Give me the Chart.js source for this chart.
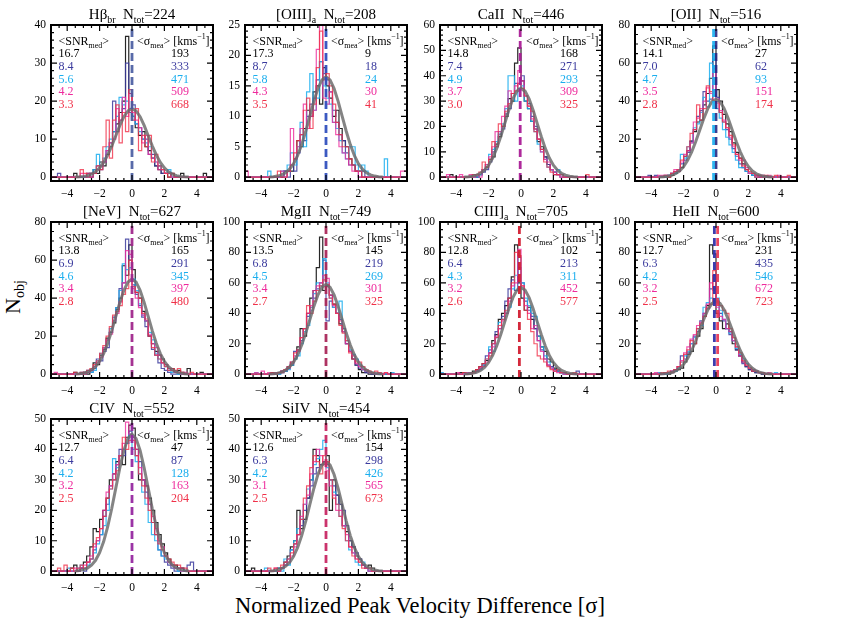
<!DOCTYPE html>
<html><head><meta charset="utf-8">
<script src="https://cdn.jsdelivr.net/npm/chart.js@4.4.1/dist/chart.umd.min.js"></script>
<style>
html,body{margin:0;padding:0;background:#fff;}
body{width:845px;height:623px;position:relative;overflow:hidden;font-family:"Liberation Serif","Times New Roman",serif;color:#000;}
#ylab{position:absolute;left:14px;top:297px;transform:translate(-50%,-50%) rotate(-90deg);font-size:22px;white-space:nowrap;}
#xlab{position:absolute;left:420px;top:606px;transform:translate(-50%,-50%);font-size:22.5px;white-space:nowrap;}
#ylab sub{font-size:14px;vertical-align:-4px;}
canvas{position:absolute;}
</style></head><body>
<div id="ylab">N<sub>obj</sub></div>
<div id="xlab">Normalized Peak Velocity Difference [σ]</div>
<script>
// ---------- DATA ----------
const binEdges = [-5,-4.8,-4.6,-4.4,-4.2,-4,-3.8,-3.6,-3.4,-3.2,-3,-2.8,-2.6,-2.4,-2.2,-2,-1.8,-1.6,-1.4,-1.2,-1,-0.8,-0.6,-0.4,-0.2,0,0.2,0.4,0.6,0.8,1,1.2,1.4,1.6,1.8,2,2.2,2.4,2.6,2.8,3,3.2,3.4,3.6,3.8,4,4.2,4.4,4.6,4.8,5];
const fitX = [-3.5,-3.25,-3,-2.75,-2.5,-2.25,-2,-1.75,-1.5,-1.25,-1,-0.75,-0.5,-0.25,0,0.25,0.5,0.75,1,1.25,1.5,1.75,2,2.25,2.5,2.75,3,3.25,3.5];
const xTicks = [-4,-2,0,2,4];

const lineNames = ['Hβ','[OIII]','CaII','[OII]','[NeV]','MgII','CIII]','HeII','CIV','SiIV'];
const lineSubs  = ['br','a','','','','','a','','',''];
const nTot      = [224,208,446,516,627,749,705,600,552,454];

// panel 1: Hbeta broad
const hb_k = [0,0,0,0,0,0,0,0,1,0, 0,0,1,0,2,1,4,3,6,8, 12,14,17,20,37,22,16,13,11,12, 8,7,5,3,2,1,1,0,1,0, 0,1,0,0,0,0,0,0,1,0];
const hb_b = [0,0,0,1,0,0,0,0,0,0, 0,0,0,1,1,3,2,4,7,9, 20,12,15,18,30,17,19,14,13,10, 10,6,6,3,3,1,1,1,0,0, 0,0,0,0,0,0,0,0,0,0];
const hb_c = [0,0,0,0,0,0,0,0,0,0, 0,0,0,1,2,6,3,5,8,10, 12,16,21,19,20,18,16,14,12,10, 9,8,5,4,3,2,1,2,0,0, 0,0,0,0,0,0,0,0,0,0];
const hb_m = [0,0,0,0,0,0,0,0,0,0, 1,0,1,0,1,2,3,4,7,9, 10,18,15,21,16,22,17,15,13,9, 11,6,5,4,2,2,1,1,0,0, 0,0,0,0,0,0,0,0,0,0];
const hb_r = [0,0,0,0,0,0,0,0,0,0, 2,1,0,1,1,3,2,8,15,5, 15,19,9,17,12,23,15,18,7,11, 8,11,4,6,3,2,1,0,1,0, 0,0,0,0,0,0,0,0,0,0];
const hb_fit = [0.04,0.09,0.2,0.41,0.79,1.43,2.44,3.9,5.84,8.24,10.9,13.6,15.9,17.4,18,17.4,15.9,13.6,10.9,8.24,5.84,3.9,2.44,1.43,0.79,0.41,0.2,0.09,0.04];
const hb_snr = ['16.7','8.4','5.6','4.2','3.3'];
const hb_sig = ['193','333','471','509','668'];

// panel 2: [OIII]a
const o3_k = [0,0,0,0,0,0,0,0,0,0, 0,0,0,1,1,1,3,6,5,8, 11,10,14,15,12,18,15,13,10,11, 8,6,5,3,2,1,1,0,0,0, 0,0,0,0,0,0,0,0,0,0];
const o3_b = [0,0,0,0,0,0,0,0,0,0, 0,0,0,1,0,2,1,4,7,6, 10,12,13,16,19,17,16,14,11,9, 7,6,4,2,2,1,0,1,0,0, 0,0,0,0,0,0,0,0,0,0];
const o3_c = [0,0,0,0,0,0,0,0,1,0, 0,0,1,0,2,4,2,5,9,5, 14,17,11,13,19,15,13,12,9,8, 6,4,3,5,5,2,1,2,1,0, 0,0,0,0,3,0,0,0,0,0];
const o3_m = [0,1,0,0,0,0,0,0,0,0, 0,0,1,0,1,8,3,5,8,12, 8,10,11,21,25,13,12,14,9,7, 5,4,3,2,1,1,0,0,0,0, 0,0,0,0,0,0,0,0,0,1];
const o3_r = [0,0,0,0,0,0,0,0,0,0, 0,1,0,0,1,2,4,6,7,11, 13,8,12,18,24,16,17,15,12,9, 7,5,5,3,2,1,1,0,0,0, 0,0,0,0,0,0,0,0,0,0];
const o3_fit = [0.04,0.08,0.18,0.38,0.72,1.31,2.23,3.57,5.36,7.55,10,12.45,14.56,15.99,16.5,15.99,14.56,12.45,10,7.55,5.36,3.57,2.23,1.31,0.72,0.38,0.18,0.08,0.04];
const o3_snr = ['17.3','8.7','5.8','4.3','3.5'];
const o3_sig = ['9','18','24','30','41'];

// panel 3: CaII
const ca_k = [0,0,0,0,1,0,0,0,0,0, 0,1,0,1,3,4,7,8,13,16, 20,24,31,30,45,51,38,30,27,22, 19,14,12,8,5,3,2,1,1,0, 0,0,0,0,0,0,0,0,0,0];
const ca_b = [0,0,0,0,0,0,0,0,0,0, 0,0,0,1,2,3,6,10,12,17, 19,25,27,33,37,35,40,32,29,24, 20,15,11,8,5,3,1,1,0,0, 0,0,0,0,0,0,0,0,0,0];
const ca_c = [0,0,0,0,0,0,0,0,0,0, 0,1,0,1,3,5,9,11,14,18, 21,27,40,40,30,35,36,30,27,22, 18,13,10,7,4,3,2,3,1,0, 0,0,0,0,0,0,0,0,0,0];
const ca_m = [0,0,0,1,0,0,0,1,0,0, 1,0,1,0,3,5,8,12,18,18, 24,28,34,33,36,42,38,32,28,23, 19,15,10,7,6,3,2,1,0,0, 0,0,0,0,0,0,0,0,0,0];
const ca_r = [0,0,0,0,0,0,0,0,0,0, 0,1,1,2,6,4,7,14,12,21, 20,26,29,33,34,37,35,32,28,26, 18,15,11,6,4,2,1,1,1,0, 0,0,0,0,0,0,1,0,0,0];
const ca_fit = [0.08,0.18,0.39,0.8,1.54,2.79,4.74,7.58,11.36,16.02,21.23,26.42,30.89,33.92,35,33.92,30.89,26.42,21.23,16.02,11.36,7.58,4.74,2.79,1.54,0.8,0.39,0.18,0.08];
const ca_snr = ['14.8','7.4','4.9','3.7','3.0'];
const ca_sig = ['168','271','293','309','325'];

// panel 4: [OII]
const o2_k = [0,0,0,0,0,0,0,0,0,0, 0,0,1,2,3,5,11,14,19,24, 29,30,38,44,52,69,46,40,33,28, 24,18,13,10,7,4,2,1,1,0, 0,0,0,0,0,0,0,0,0,0];
const o2_b = [0,0,0,0,0,1,0,1,0,0, 1,1,2,3,4,7,9,13,19,25, 32,35,45,40,41,62,42,34,29,25, 20,15,11,7,5,3,2,1,0,0, 0,0,0,0,0,0,0,0,0,0];
const o2_c = [0,0,0,0,0,0,0,0,0,0, 0,1,2,2,4,12,10,16,18,26, 28,34,42,37,60,43,36,31,25,21, 17,13,9,5,5,3,2,1,0,1, 0,0,0,0,0,0,0,0,0,0];
const o2_m = [0,0,0,0,0,0,0,0,1,1, 1,1,2,4,3,8,12,14,18,29, 31,36,40,47,44,57,41,35,30,26, 21,16,12,9,9,5,2,2,1,0, 1,0,1,0,0,1,0,0,0,0];
const o2_r = [0,0,0,0,0,0,0,0,0,0, 1,0,2,3,4,9,11,16,23,25, 38,30,36,48,45,40,39,34,29,26, 22,17,12,10,6,4,3,2,0,1, 0,1,0,0,1,0,0,0,1,0];
const o2_fit = [0.09,0.21,0.46,0.93,1.8,3.26,5.55,8.88,13.31,18.77,24.87,30.95,36.18,39.74,41,39.74,36.18,30.95,24.87,18.77,13.31,8.88,5.55,3.26,1.8,0.93,0.46,0.21,0.09];
const o2_snr = ['14.1','7.0','4.7','3.5','2.8'];
const o2_sig = ['27','62','93','151','174'];

// panel 5: [NeV]
const ne_k = [0,0,0,0,0,0,0,0,1,0, 0,1,0,2,6,5,10,13,19,22, 27,34,40,57,52,68,55,43,40,33, 28,20,16,12,10,8,5,3,3,1, 2,1,0,3,0,0,0,1,0,0];
const ne_b = [0,0,0,0,0,0,0,0,0,0, 1,0,2,1,3,8,7,12,14,22, 30,35,45,48,71,60,47,42,36,30, 25,20,13,10,6,3,2,1,0,0, 0,0,0,0,0,0,0,0,0,0];
const ne_c = [0,0,0,0,0,0,0,0,0,0, 0,0,1,1,2,7,11,14,18,24, 28,35,44,58,55,56,50,44,37,31, 28,22,18,11,8,6,4,2,1,1, 0,0,0,0,0,0,0,0,0,0];
const ne_m = [0,0,1,0,0,0,0,0,0,0, 0,1,1,2,4,6,9,14,18,21, 28,32,38,48,65,63,45,40,35,31, 28,21,16,14,10,6,5,3,2,1, 1,0,1,0,0,0,0,0,0,0];
const ne_r = [0,0,0,0,0,0,0,0,1,0, 1,0,2,3,5,7,11,15,20,25, 31,33,36,42,45,60,46,43,40,32, 29,20,14,10,8,6,4,2,3,2, 3,1,0,0,1,0,0,0,0,0];
const ne_fit = [0.11,0.26,0.56,1.14,2.2,3.98,6.77,10.83,16.24,22.89,30.33,37.74,44.13,48.46,50,48.46,44.13,37.74,30.33,22.89,16.24,10.83,6.77,3.98,2.2,1.14,0.56,0.26,0.11];
const ne_snr = ['13.8','6.9','4.6','3.4','2.8'];
const ne_sig = ['165','291','345','397','480'];

// panel 6: MgII
const mg_k = [0,0,0,0,0,0,0,0,0,1, 0,1,2,2,4,6,10,18,30,25, 40,50,55,70,90,55,58,52,46,40, 33,28,20,15,10,6,3,1,1,0, 0,0,0,0,0,0,0,0,0,0];
const mg_b = [0,0,0,0,0,0,0,0,0,0, 1,0,1,2,5,8,15,16,22,30, 38,44,50,56,60,75,35,48,44,40, 36,30,20,15,10,6,4,3,1,1, 0,0,0,0,0,0,0,0,0,0];
const mg_c = [0,0,0,0,1,0,0,0,0,0, 0,0,1,2,3,6,10,12,20,28, 32,42,53,60,58,76,60,50,44,40, 48,28,22,16,13,10,6,3,2,1, 1,0,0,0,0,0,1,0,0,0];
const mg_m = [0,0,0,0,1,0,2,0,1,0, 1,1,2,3,4,7,12,15,24,30, 40,45,55,58,60,65,63,52,45,40, 35,28,20,15,12,7,5,3,2,1, 1,0,1,0,1,0,0,0,0,0];
const mg_r = [0,0,0,0,0,0,0,0,0,1, 0,1,1,3,5,8,14,16,24,30, 45,40,48,55,58,62,59,50,46,40, 32,27,22,14,10,8,8,5,3,2, 1,2,1,0,1,0,0,0,0,0];
const mg_fit = [0.13,0.3,0.65,1.35,2.59,4.7,7.98,12.77,19.16,27.01,35.78,44.53,52.07,57.18,59,57.18,52.07,44.53,35.78,27.01,19.16,12.77,7.98,4.7,2.59,1.35,0.65,0.3,0.13];
const mg_snr = ['13.5','6.8','4.5','3.4','2.7'];
const mg_sig = ['145','219','269','301','325'];

// panel 7: CIII]a
const c3_k = [0,0,0,0,0,0,0,1,1,0, 1,2,3,5,7,9,14,22,26,36, 40,45,50,64,85,60,50,42,44,36, 30,25,18,15,10,8,4,2,1,1, 0,0,0,0,0,0,0,0,0,0];
const c3_b = [0,0,0,0,0,0,0,0,0,0, 1,1,2,4,6,12,16,20,28,30, 38,48,56,62,55,70,60,48,42,38, 30,22,16,10,6,5,3,2,1,0, 0,0,0,2,0,0,0,0,0,0];
const c3_c = [0,1,0,0,0,0,0,0,0,1, 0,1,2,3,6,10,18,15,24,34, 36,40,44,56,65,77,60,50,45,40, 38,25,18,12,8,4,2,2,1,0, 0,0,0,0,0,0,0,0,0,0];
const c3_m = [0,0,0,0,0,0,1,0,0,1, 1,1,2,4,5,8,14,18,25,30, 35,40,48,58,60,82,58,45,40,30, 32,22,15,10,6,4,2,1,1,0, 0,0,0,0,0,0,0,0,0,0];
const c3_r = [0,0,0,0,0,0,0,0,1,0, 0,1,3,5,7,10,12,20,24,32, 36,42,50,60,80,78,58,42,36,28, 20,12,10,8,5,3,2,3,1,1, 0,0,1,0,0,0,0,0,0,0];
const c3_fit = [0.13,0.29,0.63,1.3,2.5,4.54,7.71,12.34,18.51,26.09,34.57,43.02,50.3,55.24,57,55.24,50.3,43.02,34.57,26.09,18.51,12.34,7.71,4.54,2.5,1.3,0.63,0.29,0.13];
const c3_snr = ['12.8','6.4','4.3','3.2','2.6'];
const c3_sig = ['102','213','311','452','577'];

// panel 8: HeII
const he_k = [0,0,0,0,0,0,0,0,0,0, 1,0,1,2,3,4,8,13,15,20, 25,30,38,45,85,79,40,35,30,33, 28,20,16,12,8,5,3,2,1,1, 0,0,0,0,0,0,0,0,0,0];
const he_b = [0,0,0,0,0,0,0,0,0,0, 0,1,2,3,5,12,10,14,20,25, 28,35,40,43,56,65,48,40,35,30, 26,22,16,12,7,5,3,2,1,1, 0,0,0,0,0,0,0,0,0,0];
const he_c = [0,0,0,0,0,0,0,0,1,0, 0,1,1,2,4,8,12,15,20,24, 30,32,44,47,50,48,50,42,36,30, 27,22,17,13,10,7,4,3,2,1, 1,0,0,0,1,0,0,0,0,0];
const he_m = [0,0,0,0,0,0,0,1,0,0, 1,1,2,3,5,9,14,18,23,26, 32,34,40,46,60,55,44,38,36,30, 28,22,18,12,8,6,4,3,2,1, 1,0,1,0,0,0,0,0,0,0];
const he_r = [0,0,0,0,0,0,0,0,0,1, 1,2,1,3,5,8,13,16,22,20, 30,33,38,44,46,68,48,45,42,40, 30,24,18,14,9,6,4,2,2,1, 1,0,0,0,0,0,0,0,0,0];
const he_fit = [0.11,0.24,0.53,1.09,2.11,3.82,6.49,10.39,15.59,21.97,29.11,36.23,42.36,46.52,48,46.52,42.36,36.23,29.11,21.97,15.59,10.39,6.49,3.82,2.11,1.09,0.53,0.24,0.11];
const he_snr = ['12.7','6.3','4.2','3.2','2.5'];
const he_sig = ['231','435','546','672','723'];

// panel 9: CIV
const c4_k = [0,0,0,0,0,0,0,1,2,0, 1,3,5,8,14,13,17,20,24,30, 32,36,38,35,44,48,47,40,30,30, 28,24,20,16,12,9,6,4,2,2, 1,1,0,0,0,0,0,0,0,0];
const c4_b = [0,0,0,0,0,0,0,0,0,0, 1,0,3,4,7,10,12,18,22,28, 30,35,40,38,42,46,44,38,36,30, 26,22,16,12,7,5,3,2,1,0, 0,1,0,2,3,0,0,0,0,0];
const c4_c = [0,0,0,0,0,0,1,0,0,1, 2,1,2,4,6,9,12,15,20,27, 37,34,38,40,42,45,40,36,32,26, 22,16,12,10,7,5,4,3,2,1, 0,0,0,0,0,0,0,0,0,0];
const c4_m = [0,0,0,0,0,0,0,0,1,0, 1,2,3,5,8,10,14,20,26,28, 32,35,38,42,49,45,44,40,34,30, 28,22,18,14,10,8,5,3,2,1, 1,0,0,0,0,0,0,0,0,0];
const c4_r = [0,0,0,1,0,2,0,1,0,1, 2,1,3,4,9,11,14,18,24,27, 30,33,38,44,40,43,43,38,32,28, 24,20,16,12,9,7,5,4,3,2, 2,1,1,0,0,0,0,0,0,0];
const c4_fit = [0.1,0.23,0.5,1.03,1.98,3.58,6.09,9.74,14.61,20.6,27.29,33.97,39.71,43.61,45,43.61,39.71,33.97,27.29,20.6,14.61,9.74,6.09,3.58,1.98,1.03,0.5,0.23,0.1];
const c4_snr = ['12.7','6.4','4.2','3.2','2.5'];
const c4_sig = ['47','87','128','163','204'];

// panel 10: SiIV
const si_k = [0,0,0,1,0,0,0,0,0,0, 0,1,1,3,5,8,10,20,14,17, 24,30,40,38,35,36,38,20,30,25, 22,15,13,10,8,5,4,2,1,2, 1,0,0,0,0,0,0,0,0,0];
const si_b = [0,0,0,0,0,0,0,0,0,0, 0,0,1,2,4,7,9,12,15,20, 24,28,32,34,35,36,35,30,28,25, 22,20,15,10,8,6,4,2,1,0, 0,0,0,0,0,0,0,0,0,0];
const si_c = [0,0,0,0,0,0,0,1,0,0, 0,1,0,4,2,7,10,14,17,22, 27,30,35,37,40,43,34,30,26,22, 18,15,10,7,6,3,2,3,1,0, 0,0,0,0,0,0,0,0,0,0];
const si_m = [0,0,0,0,0,0,0,0,0,0, 1,0,1,2,3,5,8,12,18,22, 25,32,36,40,38,35,33,28,25,20, 20,15,12,8,6,4,3,2,1,0, 0,0,0,0,0,0,0,0,0,0];
const si_r = [0,0,0,0,0,0,0,0,1,0, 1,0,2,3,4,6,9,12,17,24, 28,34,38,36,32,38,36,30,24,22, 18,14,10,8,5,4,3,1,1,1, 0,0,0,0,0,0,0,0,0,0];
const si_fit = [0.08,0.18,0.4,0.82,1.58,2.87,4.87,7.79,11.69,16.48,21.83,27.17,31.77,34.89,36,34.89,31.77,27.17,21.83,16.48,11.69,7.79,4.87,2.87,1.58,0.82,0.4,0.18,0.08];
const si_snr = ['12.6','6.3','4.2','3.1','2.5'];
const si_sig = ['154','298','426','565','673'];

// y axis maxima and tick labels
const yMaxes = [40,25,60,80,80,100,100,100,50,50];
const yTickSets = [[0,10,20,30,40],[0,5,10,15,20,25],[0,10,20,30,40,50,60],[0,20,40,60,80],[0,20,40,60,80],
  [0,20,40,60,80,100],[0,20,40,60,80,100],[0,20,40,60,80,100],[0,10,20,30,40,50],[0,10,20,30,40,50]];
// median (dashed) line positions
const medX = [[0],[0],[-0.05],[-0.15,0],[0],[0],[-0.1],[-0.1,0.1],[0],[0]];

// ---------- STYLE ----------
const FONT = '"Liberation Serif","Times New Roman",serif';
const TXT_COLS = ['#000000','#3b3b9e','#1aaeee','#ee2a9c','#f03048'];
const LINE_COLS = ['rgba(0,0,0,0.85)','rgba(59,59,158,0.85)','rgba(26,174,238,0.85)','rgba(238,42,156,0.8)','rgba(240,48,72,0.8)'];
const MED_COLS = [['rgba(70,90,160,0.9)'],['rgba(50,80,190,0.95)'],['rgba(170,30,150,0.95)'],
  ['rgba(26,174,238,0.9)','rgba(40,40,130,0.9)'],['rgba(160,40,140,0.95)'],['rgba(170,40,90,0.95)'],['rgba(210,30,50,0.95)'],
  ['rgba(50,50,170,0.95)','rgba(230,50,80,0.9)'],['rgba(150,40,160,0.95)'],['rgba(200,40,100,0.95)']];
const PLOT_LEFT = [51,245,440,635];
const PLOT_TOP = [25,222,419];
const PLOT_W = 162, PLOT_H = 156, PADL = 40, PADT = 26, PADR = 8, PADB = 22;

const panels = [
  {h:[hb_k,hb_b,hb_c,hb_m,hb_r], fit:hb_fit, snr:hb_snr, sig:hb_sig},
  {h:[o3_k,o3_b,o3_c,o3_m,o3_r], fit:o3_fit, snr:o3_snr, sig:o3_sig},
  {h:[ca_k,ca_b,ca_c,ca_m,ca_r], fit:ca_fit, snr:ca_snr, sig:ca_sig},
  {h:[o2_k,o2_b,o2_c,o2_m,o2_r], fit:o2_fit, snr:o2_snr, sig:o2_sig},
  {h:[ne_k,ne_b,ne_c,ne_m,ne_r], fit:ne_fit, snr:ne_snr, sig:ne_sig},
  {h:[mg_k,mg_b,mg_c,mg_m,mg_r], fit:mg_fit, snr:mg_snr, sig:mg_sig},
  {h:[c3_k,c3_b,c3_c,c3_m,c3_r], fit:c3_fit, snr:c3_snr, sig:c3_sig},
  {h:[he_k,he_b,he_c,he_m,he_r], fit:he_fit, snr:he_snr, sig:he_sig},
  {h:[c4_k,c4_b,c4_c,c4_m,c4_r], fit:c4_fit, snr:c4_snr, sig:c4_sig},
  {h:[si_k,si_b,si_c,si_m,si_r], fit:si_fit, snr:si_snr, sig:si_sig}
];

function drawRich(ctx, parts, x, y, size, color, align) {
  ctx.save();
  ctx.fillStyle = color; ctx.textBaseline = 'alphabetic'; ctx.textAlign = 'left';
  let w = 0;
  for (const [t,k] of parts) { ctx.font = (k ? size*0.66 : size) + 'px ' + FONT; w += ctx.measureText(t).width; }
  if (align === 'center') x -= w/2;
  for (const [t,k] of parts) {
    const s = k ? size*0.66 : size;
    ctx.font = s + 'px ' + FONT;
    const dy = k === 1 ? size*0.28 : (k === 2 ? -size*0.42 : 0);
    ctx.fillText(t, x, y + dy);
    x += ctx.measureText(t).width;
  }
  ctx.restore();
}

function makePanel(idx) {
  const p = panels[idx];
  const col = idx % 4, row = Math.floor(idx / 4);
  const ymax = yMaxes[idx], ymin = -0.025 * ymax;
  const ticksY = yTickSets[idx];
  const ystep = ticksY[1] - ticksY[0];
  const yminor = ystep === 20 ? 5 : ystep / 5;
  const W = PADL + PLOT_W + PADR, H = PADT + PLOT_H + PADB;
  const cv = document.createElement('canvas');
  cv.width = W; cv.height = H;
  cv.style.left = (PLOT_LEFT[col] - PADL) + 'px';
  cv.style.top = (PLOT_TOP[row] - PADT) + 'px';
  cv.style.width = W + 'px'; cv.style.height = H + 'px';
  document.body.appendChild(cv);

  const datasets = [];
  medX[idx].forEach((m, j) => datasets.push({
    data: [{x:m, y:ymin}, {x:m, y:ymax}], borderColor: MED_COLS[idx][j], borderWidth: 2.8,
    borderDash: [8,4], pointRadius: 0, order: 0
  }));
  datasets.push({
    data: fitX.map((x,i) => ({x, y: p.fit[i]})), borderColor: 'rgba(105,105,105,0.82)',
    borderWidth: 3, pointRadius: 0, order: 1
  });
  const orderMap = [6,5,4,3,2];
  p.h.forEach((h, s) => datasets.push({
    data: binEdges.map((e,i) => ({x:e, y: h[Math.min(i, h.length - 1)]})),
    stepped: 'after', borderColor: LINE_COLS[s], borderWidth: 1.2, pointRadius: 0, order: orderMap[s]
  }));

  const deco = {
    id: 'deco' + idx,
    afterDraw(chart) {
      const ctx = chart.ctx, a = chart.chartArea, xs = chart.scales.x, ys = chart.scales.y;
      ctx.save();
      ctx.strokeStyle = '#000'; ctx.lineWidth = 1.2;
      ctx.beginPath();
      for (let k = -10; k <= 10; k++) {
        const v = k * 0.5, px = xs.getPixelForValue(v);
        const L = (k % 4 === 0) ? 6 : 3;
        ctx.moveTo(px, a.bottom); ctx.lineTo(px, a.bottom - L);
        ctx.moveTo(px, a.top); ctx.lineTo(px, a.top + L);
      }
      for (let v = 0; v <= ymax + 1e-9; v += yminor) {
        const py = ys.getPixelForValue(v);
        const L = (Math.abs(v / ystep - Math.round(v / ystep)) < 1e-6) ? 6 : 3;
        ctx.moveTo(a.left, py); ctx.lineTo(a.left + L, py);
        ctx.moveTo(a.right, py); ctx.lineTo(a.right - L, py);
      }
      ctx.stroke();
      ctx.lineWidth = 2;
      ctx.strokeRect(a.left, a.top, a.right - a.left, a.bottom - a.top);
      ctx.restore();

      // title
      const tparts = [[lineNames[idx],0]];
      if (lineSubs[idx]) tparts.push([lineSubs[idx],1]);
      tparts.push(['  N',0],['tot',1],['=' + nTot[idx],0]);
      drawRich(ctx, tparts, (a.left + a.right) / 2, a.top - 6, 15, '#000', 'center');

      // legend text
      const y0 = a.top + 19.5, dy = 12.7;
      drawRich(ctx, [['<SNR',0],['med',1],['>',0]], a.left + 7.5, y0, 12, '#000', 'left');
      drawRich(ctx, [['<σ',0],['mea',1],['> [kms',0],['−1',2],[']',0]], a.left + 86, y0, 12, '#000', 'left');
      for (let s = 0; s < 5; s++) {
        drawRich(ctx, [[p.snr[s],0]], a.left + 7.5, y0 + dy * (s + 1), 12, TXT_COLS[s], 'left');
        drawRich(ctx, [[p.sig[s],0]], a.left + 120, y0 + dy * (s + 1), 12, TXT_COLS[s], 'left');
      }
    }
  };

  new Chart(cv, {
    type: 'line',
    data: { datasets },
    options: {
      responsive: false, animation: false, devicePixelRatio: 1,
      layout: { padding: { left: 0, right: PADR, top: PADT, bottom: 0 } },
      plugins: { legend: { display: false }, tooltip: { enabled: false }, title: { display: false } },
      elements: { line: { tension: 0, borderJoinStyle: 'miter' } },
      scales: {
        x: {
          type: 'linear', min: -5, max: 5,
          afterBuildTicks: s => { s.ticks = xTicks.map(v => ({ value: v })); },
          afterFit: s => { s.height = PADB; },
          grid: { display: false, drawTicks: false }, border: { display: false },
          ticks: { padding: 6, autoSkip: false, maxRotation: 0, color: '#000',
            font: { family: FONT, size: 11.5 },
            callback: v => (v < 0 ? '−' + Math.abs(v) : String(v)) }
        },
        y: {
          type: 'linear', min: ymin, max: ymax,
          afterBuildTicks: s => { s.ticks = ticksY.map(v => ({ value: v })); },
          afterFit: s => { s.width = PADL; },
          grid: { display: false, drawTicks: false }, border: { display: false },
          ticks: { padding: 5, autoSkip: false, color: '#000',
            font: { family: FONT, size: 11.5 }, callback: v => String(v) }
        }
      }
    },
    plugins: [deco]
  });
}

for (let i = 0; i < panels.length; i++) makePanel(i);
</script>
</body></html>
